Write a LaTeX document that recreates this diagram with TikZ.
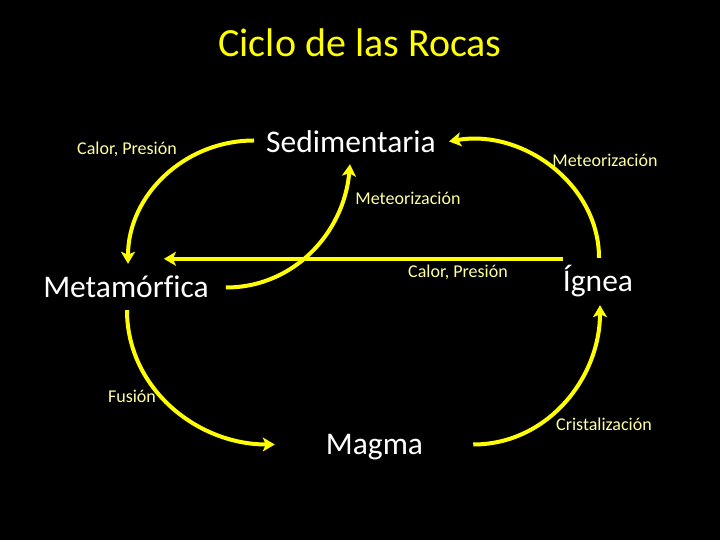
\documentclass[tikz,border=0pt]{standalone}
\usepackage{fontspec}
\setmainfont{Carlito}[Ligatures=NoCommon]
\usepackage{xcolor}
\definecolor{rockyellow}{RGB}{255,255,0}
\definecolor{stepyellow}{RGB}{255,255,160}
\usetikzlibrary{arrows.meta}
\tikzset{
  rock/.style={anchor=base, inner sep=0pt, text height=22pt, text depth=7pt,
    text=white, font=\fontsize{31.5}{38}\selectfont},
  process/.style={anchor=base, inner sep=0pt, text=stepyellow,
    font=\fontsize{18}{22}\selectfont},
  cyclearrow/.style={rockyellow, line width=4pt,
    -{Stealth[length=12pt,width=14pt,inset=3pt]}},
}

\begin{document}
\begin{tikzpicture}
        \fill[black] (0pt,0pt) rectangle (720pt,540pt);
        \useasboundingbox (0pt,0pt) rectangle (720pt,540pt);
        \node[anchor=base, text=rockyellow, font=\fontsize{40}{48}\selectfont] (title) at (360pt,483pt) {Ciclo de las Rocas};

        % the four stages
        \node[rock] (sed) at (351pt,387pt) {Sedimentaria};
        \node[rock] (met) at (126pt,242pt) {Metamórfica};
        \node[rock] (ign) at (598pt,248pt) {Ígnea};
        \node[rock] (mag) at (374.5pt,85pt) {Magma};

        % processes
        \node[process] (calor1) at (127pt,385pt) {Calor, Presión};
        \node[process] (meteo1) at (605pt,373pt) {Meteorización};
        \node[process] (meteo2) at (408pt,335pt) {Meteorización};
        \node[process] (calor2) at (458pt,262pt) {Calor, Presión};
        \node[process] (fusion) at (132pt,137pt) {Fusión};
        \node[process] (crist) at (604pt,109pt) {Cristalización};

        \draw[cyclearrow] ([xshift=-12pt,yshift=5pt]sed.west) to[out=180,in=90] ([xshift=2pt,yshift=12pt]met.north);
        \draw[cyclearrow] ([xshift=17pt,yshift=3pt]met.east) to[out=0,in=-95] ([xshift=-1pt,yshift=-4pt]sed.south);
        \draw[cyclearrow] ([xshift=1pt,yshift=12pt]ign.north) to[out=90,in=10] ([xshift=13pt,yshift=4pt]sed.east);
        \draw[cyclearrow] ([yshift=11pt]ign.north west) -- ([xshift=-45pt,yshift=17pt]met.north east);
        \draw[cyclearrow] ([xshift=1pt,yshift=-5pt]met.south) to[out=-90,in=180] ([xshift=-51pt,yshift=3pt]mag.west);
        \draw[cyclearrow] ([xshift=50pt,yshift=3pt]mag.east) to[out=0,in=-90] ([xshift=2pt,yshift=-6pt]ign.south);
      \end{tikzpicture}
\end{document}
